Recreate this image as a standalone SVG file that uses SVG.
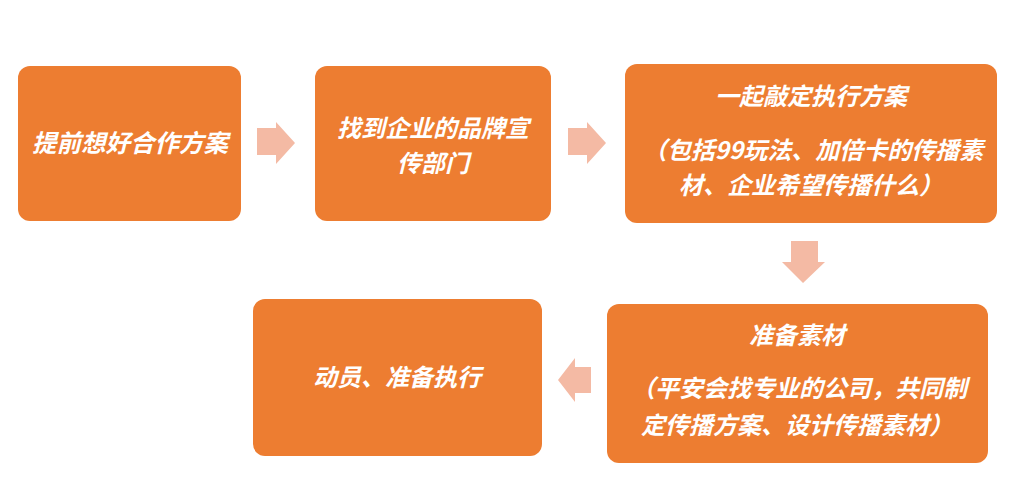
<svg xmlns="http://www.w3.org/2000/svg" width="1027" height="498" viewBox="0 0 1027 498">
<style>
.box{fill:#ED7D31;}
.arr{fill:#F4BAA4;}
text{font-family:"Noto Sans CJK SC","Noto Sans",sans-serif;font-weight:bold;font-style:italic;font-size:24px;fill:#FFFFFF;text-anchor:middle;}
</style>
<rect width="1027" height="498" fill="#FFFFFF"/>
<g id="connectors">
<polygon class="arr" points="257,128 276,128 276,122 295,143 276,164 276,155 257,155"/>
<polygon class="arr" points="568,128 587,128 587,122 606,143 587,164 587,155 568,155"/>
<polygon class="arr" points="791,241 818,241 818,262 825,262 803,283 782,262 791,262"/>
<polygon class="arr" points="591,367 575,367 575,358 558,380 575,402 575,393 591,393"/>
</g>
<g id="node1">
<rect class="box" x="18" y="66" width="223" height="155" rx="12"/>
<text x="130" y="152" style="font-size:24.5px">提前想好合作方案</text>
</g>
<g id="node2">
<rect class="box" x="315" y="66" width="236" height="155" rx="12"/>
<text x="433" y="137">找到企业的品牌宣</text>
<text x="433" y="172">传部门</text>
</g>
<g id="node3">
<rect class="box" x="625" y="64" width="372" height="159" rx="12"/>
<text x="811" y="105">一起敲定执行方案</text>
<text x="813" y="159">（包括99玩法、加倍卡的传播素</text>
<text x="811" y="194">材、企业希望传播什么）</text>
</g>
<g id="node4">
<rect class="box" x="607" y="304" width="381" height="159" rx="12"/>
<text x="797" y="344">准备素材</text>
<text x="799" y="397">（平安会找专业的公司，共同制</text>
<text x="797" y="434">定传播方案、设计传播素材）</text>
</g>
<g id="node5">
<rect class="box" x="253" y="299" width="289" height="157" rx="12"/>
<text x="397" y="386">动员、准备执行</text>
</g>
</svg>
